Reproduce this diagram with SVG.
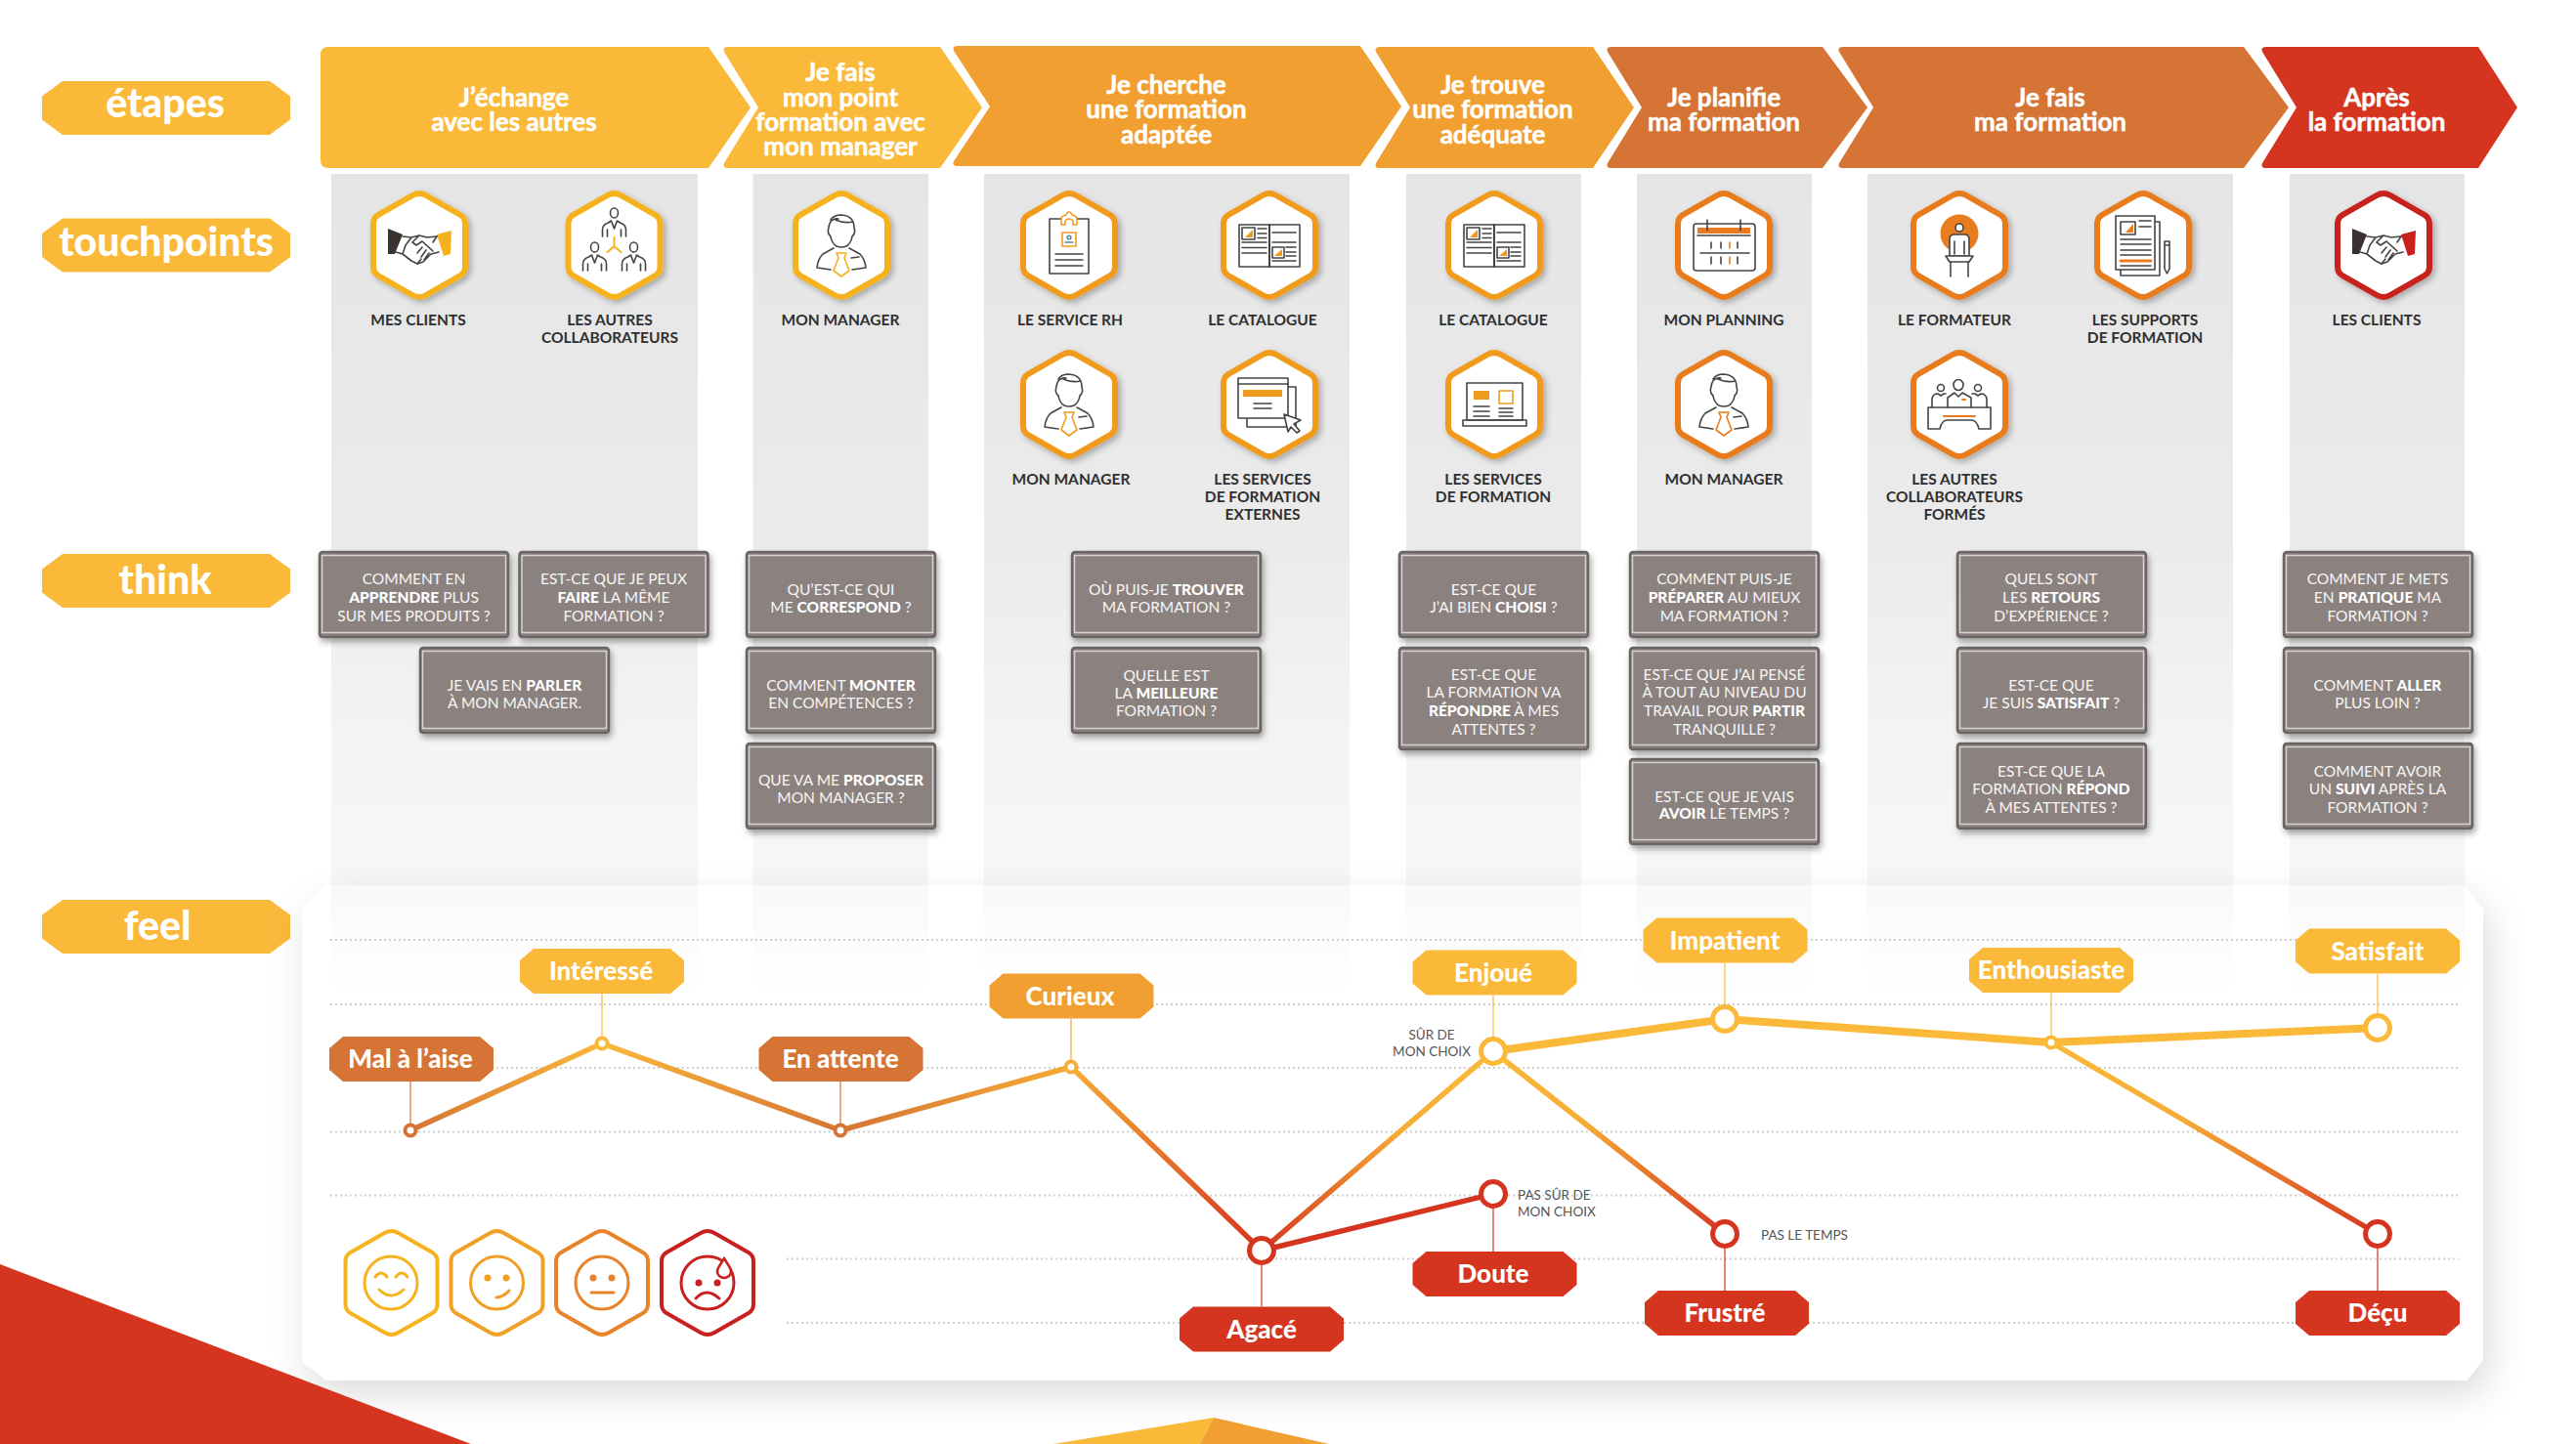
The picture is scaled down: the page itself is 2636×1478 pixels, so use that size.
<svg xmlns="http://www.w3.org/2000/svg" width="2636" height="1478" viewBox="0 0 2636 1478">
<style>
text{font-family:Lato,"Liberation Sans",Arial,sans-serif;text-anchor:middle}
.side{font-size:41px;font-weight:900;fill:#fff}
.ttl{font-size:26px;font-weight:700;fill:#fff;stroke:#fff;stroke-width:.5}
.tp{font-size:15.500px;font-weight:700;fill:#2f2f2f}
.q{font-size:15.500px;fill:#f7f5f4}
.q tspan.b{font-weight:900;fill:#fff}
.pill{font-size:26px;font-weight:900;fill:#fff}
.note{font-size:13.500px;fill:#555}
.l{text-anchor:start}
.y{fill:#FBB93A}.o{fill:#F19F30}.d{fill:#D57434}.r{fill:#D5351F}
.hex{fill:#fff;stroke:currentColor;stroke-width:6;filter:url(#hs)}
.ic{fill:none;stroke:#444;stroke-width:1.6;stroke-linecap:round;stroke-linejoin:round}
.ac{stroke:currentColor}
.af{fill:currentColor;stroke:none}
.grid{stroke:#cfcfcf;stroke-width:2;stroke-dasharray:2 3;fill:none}
.lead{stroke-width:1.2;fill:none}
.seg{fill:none;stroke-width:5.5;stroke-linecap:round}
.top{fill:none;stroke:#FBB93A;stroke-width:8;stroke-linecap:round}
.big{fill:#fff;stroke-width:5}
.small{fill:#fff;stroke-width:4}
.emo{fill:#fff;stroke:currentColor;stroke-width:4}
.fc{fill:none;stroke:currentColor;stroke-width:3;stroke-linecap:round}
.dot{fill:currentColor}
</style>
<defs>
<filter id="hs" x="-20%" y="-20%" width="150%" height="150%"><feDropShadow dx="3" dy="3" stdDeviation="3" flood-color="#000" flood-opacity=".28"/></filter>
<filter id="bs" x="-10%" y="-10%" width="125%" height="130%"><feDropShadow dx="2" dy="4" stdDeviation="3" flood-color="#000" flood-opacity=".35"/></filter>
<filter id="cs" x="-5%" y="-10%" width="110%" height="125%"><feDropShadow dx="6" dy="14" stdDeviation="18" flood-color="#000" flood-opacity=".14"/></filter>
<linearGradient id="col" gradientUnits="userSpaceOnUse" x1="0" y1="178" x2="0" y2="906"><stop offset="0" stop-color="#e5e5e5"/><stop offset=".52" stop-color="#ebebeb"/><stop offset=".8" stop-color="#f4f4f4"/><stop offset="1" stop-color="#f7f7f7"/></linearGradient>
<linearGradient id="col2" gradientUnits="userSpaceOnUse" x1="0" y1="906" x2="0" y2="1020"><stop offset="0" stop-color="#000" stop-opacity=".025"/><stop offset="1" stop-color="#000" stop-opacity="0"/></linearGradient>
<linearGradient id="g1" gradientUnits="userSpaceOnUse" x1="420" y1="1157" x2="615" y2="1068"><stop offset="0" stop-color="#D57434"/><stop offset="1" stop-color="#FBB93A"/></linearGradient>
<linearGradient id="g2" gradientUnits="userSpaceOnUse" x1="615" y1="1068" x2="860" y2="1157"><stop offset="0" stop-color="#FBB93A"/><stop offset="1" stop-color="#D57434"/></linearGradient>
<linearGradient id="g3" gradientUnits="userSpaceOnUse" x1="860" y1="1157" x2="1096" y2="1092"><stop offset="0" stop-color="#D57434"/><stop offset="1" stop-color="#F6AC35"/></linearGradient>
<linearGradient id="g4" gradientUnits="userSpaceOnUse" x1="1096" y1="1092" x2="1291" y2="1280"><stop offset="0" stop-color="#F6AC35"/><stop offset="1" stop-color="#D5351F"/></linearGradient>
<linearGradient id="g5" gradientUnits="userSpaceOnUse" x1="1291" y1="1280" x2="1528" y2="1076"><stop offset="0" stop-color="#D5351F"/><stop offset=".6" stop-color="#F6AC35"/><stop offset="1" stop-color="#FBB93A"/></linearGradient>
<linearGradient id="g6" gradientUnits="userSpaceOnUse" x1="1528" y1="1076" x2="1765" y2="1263"><stop offset="0" stop-color="#FBB93A"/><stop offset=".4" stop-color="#F6AC35"/><stop offset="1" stop-color="#D5351F"/></linearGradient>
<linearGradient id="g7" gradientUnits="userSpaceOnUse" x1="2099" y1="1067" x2="2433" y2="1263"><stop offset="0" stop-color="#FBB93A"/><stop offset=".4" stop-color="#F6AC35"/><stop offset="1" stop-color="#D5351F"/></linearGradient>
<path id="h" d="M-7,-51Q0,-55 7,-51L42,-31Q47,-28 47,-22L47,22Q47,28 42,31L7,51Q0,55 -7,51L-42,31Q-47,28 -47,22L-47,-22Q-47,-28 -42,-31Z"/>
<path id="sl" d="M-106,-27.5H106L127,-12V12L106,27.5H-106L-127,12V-12Z"/>
<path id="pl" d="M-70,-23H70L84,-11V11L70,23H-70L-84,11V-11Z"/>
<g id="b87"><rect width="193" height="87" rx="3" fill="#8B827F" stroke="#6a6563" stroke-width="2.5" filter="url(#bs)"/><rect x="2.5" y="3.5" width="188" height="79" fill="none" stroke="#d6d2d0" stroke-width="1.5"/></g>
<g id="b104"><rect width="193" height="104" rx="3" fill="#8B827F" stroke="#6a6563" stroke-width="2.5" filter="url(#bs)"/><rect x="2.5" y="3.5" width="188" height="96" fill="none" stroke="#d6d2d0" stroke-width="1.5"/></g>
<g id="i-shake" class="ic"><path fill="#3a3130" stroke="none" d="M-32,-17L-17,-11L-25,9L-32,9Z"/><path class="af" d="M33,-15L18,-11L25,11L32,9Z"/><path d="M-17,-9L-8,-8L0,-10L8,-8L18,-9M-24,7L-17,9L-8,16L-2,19L4,17L8,13L12,9L20,7M0,-10L-7,-3L-3,0L3,-4L14,6M-8,-8L-14,0L-17,9M3,2L-2,8M7,5L2,12M10,8L5,15"/><path d="M18,-9L14,-3M-2,19L2,14"/></g>
<g id="person" class="ic"><ellipse cx="0" cy="-11" rx="4" ry="5"/><path d="M-12,13V6Q-12,1 -6,-1L-3,-3L0,5L3,-3L6,-1Q12,1 12,6V13M-7,13V6M7,13V6"/></g>
<g id="i-collab" class="ic"><use href="#person" y="-22"/><use href="#person" x="-20" y="13"/><use href="#person" x="20" y="13"/><path class="ac" stroke-width="2" d="M0,-8V1M0,1L-7,7M0,1L7,7"/></g>
<g id="i-manager" class="ic"><path d="M-3,-27Q-12,-28 -13,-18Q-15,-12 -11,-9Q-10,-2 -5,1Q0,3 5,1Q10,-2 11,-9Q15,-12 13,-18Q13,-30 0,-31Q-8,-31 -11,-26M-6,-26Q3,-22 12,-24M-8,3L-19,9Q-24,14 -25,23L-11,25M8,3L19,9Q24,14 25,23L11,25M10,13L18,12"/><path class="ac" d="M-5,8H5L3,13L8,26L0,32L-8,26L-3,13Z"/></g>
<g id="i-badge" class="ic"><path d="M-8,-27H-20V29H20V-27H8"/><path class="ac" d="M-8,-21V-27Q-8,-30 -3,-31Q-2,-34 0,-34Q2,-34 3,-31Q8,-30 8,-27V-21H4V-25Q0,-29 -4,-25V-21Z"/><rect class="ac" x="-7" y="-13" width="14" height="14"/><circle cx="0" cy="-8" r="1.8" stroke="#5b8aa0"/><path d="M-4,-3H4" stroke="#5b8aa0"/><path d="M-14,9H14M-14,15H14M-14,21H14"/></g>
<g id="i-cat" class="ic"><rect x="-31" y="-21" width="62" height="43"/><path stroke-width="2" d="M0,-21V22"/><rect x="-28" y="-18" width="13" height="12"/><path class="af" d="M-17,-16V-8H-25Z"/><rect x="3" y="2" width="12" height="11"/><path class="af" d="M13,4V11H5Z"/><path d="M-12,-17H-3M-12,-12H-3M-12,-7.5H-3M-28,-3H-3M-28,2.500H-3M-28,8H-3M3,-13H27M3,-3H27M17,2H27M17,7H27M17,11H27M3,16H27"/></g>
<g id="i-web" class="ic"><path d="M19,-18H27V23H-23V14"/><rect x="-32" y="-27" width="51" height="41" fill="#fff"/><path d="M-32,-21H19M-16,-1H2M-16,4H2"/><rect class="af" x="-27" y="-15" width="40" height="7"/><path fill="#fff" d="M15,10L32,16L25,20L31,27L28,29L22,23L19,28Z"/></g>
<g id="i-laptop" class="ic"><rect x="-28" y="-22" width="57" height="38"/><rect x="-32" y="16" width="65" height="6"/><rect class="af" x="-21" y="-14" width="16" height="9"/><rect class="ac" x="5" y="-14" width="14" height="13"/><path d="M-21,2H-5M-21,7H-5M-21,12H-5M5,4H19M5,8H19M5,12H19"/></g>
<g id="i-cal" class="ic"><rect x="-31" y="-22" width="63" height="48" rx="3"/><rect class="af" x="-27" y="-18" width="54" height="6"/><path d="M-27,-10H27M-24,8H26M-13,-3V3M-3,-3V3M14,-3V3M-13,12V19M-3,12V19M14,12V19M-17,-26V-15M17,-26V-15"/><path class="ac" d="M6,-3V3M6,12V19"/></g>
<g id="i-trainer" class="ic"><circle class="af" cx="0" cy="-12" r="19.500"/><circle cx="0" cy="-18" r="4" fill="#fff"/><path fill="#fff" d="M-10,11V-6Q-10,-11 -5,-11H5Q10,-11 10,-6V11Z"/><path d="M-5,-4V9M5,-4V9"/><path fill="#fff" d="M-14,11H14L10,17H-10Z"/><path d="M-9,17V32M9,17V32"/></g>
<g id="i-doc" class="ic"><path d="M12,-24H17V31H-23V25"/><rect x="-28" y="-30" width="40" height="55" fill="#fff"/><rect x="-23" y="-24" width="15" height="13"/><path class="af" d="M-10,-22V-13H-18Z"/><path d="M-4,-25H8M-4,-19H8M-23,-6H8M-23,-1H8M-23,5H8M-23,10H8M-23,21H8"/><path class="ac" stroke-width="3" d="M-23,16H8"/><path d="M22,-4H27V24L24.500,29L22,24ZM22,0H27"/></g>
<g id="i-group" class="ic"><circle cx="-19" cy="-17" r="3.500"/><circle cx="19" cy="-17" r="3.500"/><ellipse cx="-1" cy="-20" rx="5" ry="5.500"/><path d="M-28,3V-6Q-27,-11 -22,-11L-19,-9L-16,-11H-14M28,3V-6Q27,-11 22,-11L19,-9L16,-11H13M-12,3V-7L-5,-12L-1,-8L3,-12L12,-7V3"/><path d="M-32,3H32V25H20Q18,16 12,16H-12Q-18,16 -20,25H-32Z"/><path class="ac" stroke-width="2" d="M-16,12H16M3,-5H6"/></g>
</defs>

<g id="columns" fill="url(#col)">
<rect x="339" y="178" width="375" height="728"/><rect x="770.500" y="178" width="179.500" height="728"/><rect x="1007" y="178" width="374" height="728"/><rect x="1439" y="178" width="179" height="728"/><rect x="1675" y="178" width="179" height="728"/><rect x="1911" y="178" width="374" height="728"/><rect x="2343" y="178" width="179" height="728"/>
</g>

<g id="label-etapes"><use href="#sl" x="170" y="110.500" class="y"/><text class="side" x="169" y="120">étapes</text></g>
<g id="label-touchpoints"><use href="#sl" x="170" y="251" class="y"/><text class="side" x="170" y="262">touchpoints</text></g>
<g id="label-think"><use href="#sl" x="170" y="594.500" class="y"/><text class="side" x="169" y="608">think</text></g>
<g id="label-feel"><use href="#sl" x="170" y="948.500" class="y"/><text class="side" x="161" y="962">feel</text></g>

<g id="step-1"><path class="y" d="M336,48H725L768,110L725,172H336Q328,172 328,164V56Q328,48 336,48Z"/><text class="ttl"><tspan x="526" y="109">J’échange</tspan><tspan x="526" y="134">avec les autres</tspan></text></g>
<g id="step-2"><path class="y" d="M745,48H962L1005,110L962,172H745Q739,172 741,167L776,110L741,53Q739,48 745,48Z"/><text class="ttl"><tspan x="860" y="83">Je fais</tspan><tspan x="860" y="109">mon point</tspan><tspan x="860" y="134">formation avec</tspan><tspan x="860" y="159">mon manager</tspan></text></g>
<g id="step-3"><path class="o" d="M980,47H1392L1434,109L1392,170H980Q974,170 976,165L1013,109L976,52Q974,47 980,47Z"/><text class="ttl"><tspan x="1193.500" y="96">Je cherche</tspan><tspan x="1193.500" y="121">une formation</tspan><tspan x="1193.500" y="147">adaptée</tspan></text></g>
<g id="step-4"><path class="o" d="M1412,48H1630L1672,110L1630,172H1412Q1406,172 1408,167L1443,110L1408,53Q1406,48 1412,48Z"/><text class="ttl"><tspan x="1527.500" y="96">Je trouve</tspan><tspan x="1527.500" y="121">une formation</tspan><tspan x="1527.500" y="147">adéquate</tspan></text></g>
<g id="step-5"><path class="d" d="M1649,48H1865L1911,110L1865,172H1649Q1643,172 1645,167L1680,110L1645,53Q1643,48 1649,48Z"/><text class="ttl"><tspan x="1764" y="109">Je planifie</tspan><tspan x="1764" y="134">ma formation</tspan></text></g>
<g id="step-6"><path class="d" d="M1886,48H2296L2342,110L2296,172H1886Q1880,172 1882,167L1917,110L1882,53Q1880,48 1886,48Z"/><text class="ttl"><tspan x="2098" y="109">Je fais</tspan><tspan x="2098" y="134">ma formation</tspan></text></g>
<g id="step-7"><path class="r" d="M2319,48H2536L2576,110L2536,172H2319Q2313,172 2315,167L2350,110L2315,53Q2313,48 2319,48Z"/><text class="ttl"><tspan x="2432" y="109">Après</tspan><tspan x="2432" y="134">la formation</tspan></text></g>

<g id="tp-mes-clients" color="#F5B21F"><use href="#h" class="hex" x="429" y="251"/><use href="#i-shake" x="429" y="251"/><text class="tp" x="428" y="333">MES CLIENTS</text></g>
<g id="tp-collaborateurs" color="#F5B21F"><use href="#h" class="hex" x="628.500" y="251"/><use href="#i-collab" x="628.500" y="251"/><text class="tp"><tspan x="624" y="333">LES AUTRES</tspan><tspan x="624" y="351">COLLABORATEURS</tspan></text></g>
<g id="tp-manager-1" color="#F5B21F"><use href="#h" class="hex" x="861" y="251"/><use href="#i-manager" x="861" y="251"/><text class="tp" x="860" y="333">MON MANAGER</text></g>
<g id="tp-rh" color="#F09B1F"><use href="#h" class="hex" x="1094" y="251"/><use href="#i-badge" x="1094" y="251"/><text class="tp" x="1095" y="333">LE SERVICE RH</text></g>
<g id="tp-catalogue-1" color="#F09B1F"><use href="#h" class="hex" x="1299" y="251"/><use href="#i-cat" x="1299" y="251"/><text class="tp" x="1292" y="333">LE CATALOGUE</text></g>
<g id="tp-manager-2" color="#F09B1F"><use href="#h" class="hex" x="1094" y="414"/><use href="#i-manager" x="1094" y="414"/><text class="tp" x="1096" y="496">MON MANAGER</text></g>
<g id="tp-externes" color="#F09B1F"><use href="#h" class="hex" x="1299" y="414"/><use href="#i-web" x="1299" y="414"/><text class="tp"><tspan x="1292" y="496">LES SERVICES</tspan><tspan x="1292" y="514">DE FORMATION</tspan><tspan x="1292" y="532">EXTERNES</tspan></text></g>
<g id="tp-catalogue-2" color="#F09B1F"><use href="#h" class="hex" x="1529" y="251"/><use href="#i-cat" x="1529" y="251"/><text class="tp" x="1528" y="333">LE CATALOGUE</text></g>
<g id="tp-services" color="#F09B1F"><use href="#h" class="hex" x="1529" y="414"/><use href="#i-laptop" x="1529" y="414"/><text class="tp"><tspan x="1528" y="496">LES SERVICES</tspan><tspan x="1528" y="514">DE FORMATION</tspan></text></g>
<g id="tp-planning" color="#E87C1E"><use href="#h" class="hex" x="1764" y="251"/><use href="#i-cal" x="1764" y="251"/><text class="tp" x="1764" y="333">MON PLANNING</text></g>
<g id="tp-manager-3" color="#E87C1E"><use href="#h" class="hex" x="1764" y="414"/><use href="#i-manager" x="1764" y="414"/><text class="tp" x="1764" y="496">MON MANAGER</text></g>
<g id="tp-formateur" color="#E87C1E"><use href="#h" class="hex" x="2005" y="251"/><use href="#i-trainer" x="2005" y="251"/><text class="tp" x="2000" y="333">LE FORMATEUR</text></g>
<g id="tp-supports" color="#E87C1E"><use href="#h" class="hex" x="2193" y="251"/><use href="#i-doc" x="2193" y="251"/><text class="tp"><tspan x="2195" y="333">LES SUPPORTS</tspan><tspan x="2195" y="351">DE FORMATION</tspan></text></g>
<g id="tp-formes" color="#E87C1E"><use href="#h" class="hex" x="2005" y="414"/><use href="#i-group" x="2005" y="414"/><text class="tp"><tspan x="2000" y="496">LES AUTRES</tspan><tspan x="2000" y="514">COLLABORATEURS</tspan><tspan x="2000" y="532">FORMÉS</tspan></text></g>
<g id="tp-clients" color="#C8201F"><use href="#h" class="hex" x="2439" y="251"/><use href="#i-shake" x="2439" y="251"/><text class="tp" x="2432" y="333">LES CLIENTS</text></g>

<g id="q1"><use href="#b87" x="327" y="565"/><text class="q"><tspan x="423.500" y="598">COMMENT EN</tspan><tspan x="423.500" y="617"><tspan class="b">APPRENDRE</tspan> PLUS</tspan><tspan x="423.500" y="636">SUR MES PRODUITS ?</tspan></text></g>
<g id="q2"><use href="#b87" x="531.500" y="565"/><text class="q"><tspan x="628" y="598">EST-CE QUE JE PEUX</tspan><tspan x="628" y="617"><tspan class="b">FAIRE</tspan> LA MÊME</tspan><tspan x="628" y="636">FORMATION ?</tspan></text></g>
<g id="q3"><use href="#b87" x="430" y="663"/><text class="q"><tspan x="526.500" y="706.500">JE VAIS EN <tspan class="b">PARLER</tspan></tspan><tspan x="526.500" y="724.500">À MON MANAGER.</tspan></text></g>
<g id="q4"><use href="#b87" x="764" y="565"/><text class="q"><tspan x="860.500" y="608.500">QU’EST-CE QUI</tspan><tspan x="860.500" y="626.500">ME <tspan class="b">CORRESPOND</tspan> ?</tspan></text></g>
<g id="q5"><use href="#b87" x="764" y="663"/><text class="q"><tspan x="860.500" y="706.500">COMMENT <tspan class="b">MONTER</tspan></tspan><tspan x="860.500" y="724.500">EN COMPÉTENCES ?</tspan></text></g>
<g id="q6"><use href="#b87" x="764" y="761"/><text class="q"><tspan x="860.500" y="804">QUE VA ME <tspan class="b">PROPOSER</tspan></tspan><tspan x="860.500" y="822">MON MANAGER ?</tspan></text></g>
<g id="q7"><use href="#b87" x="1097" y="565"/><text class="q"><tspan x="1193.500" y="608.500">OÙ PUIS-JE <tspan class="b">TROUVER</tspan></tspan><tspan x="1193.500" y="626.500">MA FORMATION ?</tspan></text></g>
<g id="q8"><use href="#b87" x="1097" y="663"/><text class="q"><tspan x="1193.500" y="696.500">QUELLE EST</tspan><tspan x="1193.500" y="715">LA <tspan class="b">MEILLEURE</tspan></tspan><tspan x="1193.500" y="733">FORMATION ?</tspan></text></g>
<g id="q9"><use href="#b87" x="1432" y="565"/><text class="q"><tspan x="1528.500" y="608.500">EST-CE QUE</tspan><tspan x="1528.500" y="626.500">J’AI BIEN <tspan class="b">CHOISI</tspan> ?</tspan></text></g>
<g id="q10"><use href="#b104" x="1432" y="663"/><text class="q"><tspan x="1528.500" y="695.500">EST-CE QUE</tspan><tspan x="1528.500" y="714">LA FORMATION VA</tspan><tspan x="1528.500" y="733"><tspan class="b">RÉPONDRE</tspan> À MES</tspan><tspan x="1528.500" y="751.500">ATTENTES ?</tspan></text></g>
<g id="q11"><use href="#b87" x="1668" y="565"/><text class="q"><tspan x="1764.500" y="598">COMMENT PUIS-JE</tspan><tspan x="1764.500" y="617"><tspan class="b">PRÉPARER</tspan> AU MIEUX</tspan><tspan x="1764.500" y="636">MA FORMATION ?</tspan></text></g>
<g id="q12"><use href="#b104" x="1668" y="663"/><text class="q"><tspan x="1764.500" y="695.500">EST-CE QUE J’AI PENSÉ</tspan><tspan x="1764.500" y="714">À TOUT AU NIVEAU DU</tspan><tspan x="1764.500" y="733">TRAVAIL POUR <tspan class="b">PARTIR</tspan></tspan><tspan x="1764.500" y="751.500">TRANQUILLE ?</tspan></text></g>
<g id="q13"><use href="#b87" x="1668" y="777"/><text class="q"><tspan x="1764.500" y="820.500">EST-CE QUE JE VAIS</tspan><tspan x="1764.500" y="838"><tspan class="b">AVOIR</tspan> LE TEMPS ?</tspan></text></g>
<g id="q14"><use href="#b87" x="2003" y="565"/><text class="q"><tspan x="2099" y="598">QUELS SONT</tspan><tspan x="2099" y="617">LES <tspan class="b">RETOURS</tspan></tspan><tspan x="2099" y="636">D’EXPÉRIENCE ?</tspan></text></g>
<g id="q15"><use href="#b87" x="2003" y="663"/><text class="q"><tspan x="2099" y="706.500">EST-CE QUE</tspan><tspan x="2099" y="724.500">JE SUIS <tspan class="b">SATISFAIT</tspan> ?</tspan></text></g>
<g id="q16"><use href="#b87" x="2003" y="761"/><text class="q"><tspan x="2099" y="795">EST-CE QUE LA</tspan><tspan x="2099" y="813">FORMATION <tspan class="b">RÉPOND</tspan></tspan><tspan x="2099" y="831.500">À MES ATTENTES ?</tspan></text></g>
<g id="q17"><use href="#b87" x="2337" y="565"/><text class="q"><tspan x="2433" y="598">COMMENT JE METS</tspan><tspan x="2433" y="617">EN <tspan class="b">PRATIQUE</tspan> MA</tspan><tspan x="2433" y="636">FORMATION ?</tspan></text></g>
<g id="q18"><use href="#b87" x="2337" y="663"/><text class="q"><tspan x="2433" y="706.500">COMMENT <tspan class="b">ALLER</tspan></tspan><tspan x="2433" y="724.500">PLUS LOIN ?</tspan></text></g>
<g id="q19"><use href="#b87" x="2337" y="761"/><text class="q"><tspan x="2433" y="795">COMMENT AVOIR</tspan><tspan x="2433" y="813">UN <tspan class="b">SUIVI</tspan> APRÈS LA</tspan><tspan x="2433" y="831.500">FORMATION ?</tspan></text></g>

<path id="feel-card" d="M334,906H2520L2541,930V1392L2524,1413H334L309,1393V930Z" fill="#fff" filter="url(#cs)"/>
<g id="columns-through-card" fill="url(#col2)">
<rect x="339" y="906" width="375" height="114"/><rect x="770.500" y="906" width="179.500" height="114"/><rect x="1007" y="906" width="374" height="114"/><rect x="1439" y="906" width="179" height="114"/><rect x="1675" y="906" width="179" height="114"/><rect x="1911" y="906" width="374" height="114"/><rect x="2343" y="906" width="179" height="114"/>
</g>

<g id="grid" class="grid"><path d="M338,962H2516M338,1028H2516M338,1093H2516M338,1158.500H2516M338,1223.500H2516M805,1288.500H2516M805,1354H2516"/></g>

<g id="connectors">
<path class="lead" stroke="#D57434" d="M420,1107V1157M860,1107V1157"/>
<path class="lead" stroke="#FBB93A" d="M616,1017V1068M1528,1019V1076M1765,986V1043M2099,1016V1067M2433,997V1052"/>
<path class="lead" stroke="#F19F30" d="M1096,1043V1092"/>
<path class="lead" stroke="#D5351F" d="M1291,1280V1337M1528,1222V1281M1765,1263V1321M2433,1263V1321"/>
<path class="seg" stroke="url(#g1)" d="M420,1157L616,1068"/>
<path class="seg" stroke="url(#g2)" d="M616,1068L860,1157"/>
<path class="seg" stroke="url(#g3)" d="M860,1157L1096,1092"/>
<path class="seg" stroke="url(#g4)" d="M1096,1092L1291,1280"/>
<path class="seg" stroke="url(#g5)" d="M1291,1280L1528,1076"/>
<path class="seg" stroke="url(#g6)" d="M1528,1076L1765,1263"/>
<path class="seg" stroke="url(#g7)" d="M2099,1067L2433,1263"/>
<path class="seg" stroke="#D5351F" stroke-width="7.500" d="M1291,1280L1528,1222"/>
<path class="top" d="M1528,1076L1765,1043L2099,1067L2433,1052"/>
</g>

<g id="emo-1" color="#F5B31E"><use href="#h" class="emo" x="400.500" y="1313"/><circle class="fc" cx="400" cy="1313" r="27"/><path class="fc" d="M384,1307Q390,1299 396,1307M405,1307Q411,1299 417,1307M388,1320Q400,1332 413,1320"/></g>
<g id="emo-2" color="#F0A026"><use href="#h" class="emo" x="508.500" y="1313"/><circle class="fc" cx="508.500" cy="1313" r="27"/><circle class="dot" cx="499" cy="1308" r="3.500"/><circle class="dot" cx="518" cy="1308" r="3.500"/><path class="fc" d="M508,1328Q516,1327 521,1321"/></g>
<g id="emo-3" color="#E8832A"><use href="#h" class="emo" x="616" y="1313"/><circle class="fc" cx="616" cy="1313" r="27"/><circle class="dot" cx="607" cy="1308" r="3.500"/><circle class="dot" cx="626" cy="1308" r="3.500"/><path class="fc" d="M605,1323H628"/></g>
<g id="emo-4" color="#C8201F"><use href="#h" class="emo" x="724" y="1313"/><circle class="fc" cx="724" cy="1313" r="27"/><circle class="dot" cx="715" cy="1313" r="3.500"/><circle class="dot" cx="734" cy="1313" r="3.500"/><path class="fc" d="M712,1329Q723,1317 736,1329"/><path fill="#fff" stroke="currentColor" stroke-width="2.500" d="M741,1288L746,1296Q750,1302 746,1306Q741,1310 736,1306Q732,1302 736,1296Z"/></g>

<g id="n-mal"><use href="#pl" class="d" x="421" y="1084"/><text class="pill" x="420" y="1093">Mal à l’aise</text><circle class="small" cx="420" cy="1157" r="5.500" stroke="#D57434"/></g>
<g id="n-interesse"><use href="#pl" class="y" x="616" y="994"/><text class="pill" x="615" y="1003">Intéressé</text><circle class="small" cx="616" cy="1068" r="5.500" stroke="#FBB93A"/></g>
<g id="n-attente"><use href="#pl" class="d" x="860.500" y="1084"/><text class="pill" x="860" y="1093">En attente</text><circle class="small" cx="860" cy="1157" r="5.500" stroke="#D57434"/></g>
<g id="n-curieux"><use href="#pl" class="o" x="1096.500" y="1019.500"/><text class="pill" x="1095" y="1028.500">Curieux</text><circle class="small" cx="1096" cy="1092" r="5.500" stroke="#F6AC35"/></g>
<g id="n-agace"><use href="#pl" class="r" x="1291" y="1360.500"/><text class="pill" x="1291" y="1369.500">Agacé</text><circle class="big" cx="1291" cy="1280" r="12.500" stroke="#D5351F"/></g>
<g id="n-enjoue"><use href="#pl" class="y" x="1529.500" y="995.500"/><text class="pill" x="1528" y="1004.500">Enjoué</text><circle class="big" cx="1528" cy="1076" r="12.500" stroke="#FBB93A"/><text class="note"><tspan x="1465" y="1064">SÛR DE</tspan><tspan x="1465" y="1081">MON CHOIX</tspan></text></g>
<g id="n-impatient"><use href="#pl" class="y" x="1765.500" y="962.500"/><text class="pill" x="1765" y="971.500">Impatient</text><circle class="big" cx="1765" cy="1043" r="12.500" stroke="#FBB93A"/></g>
<g id="n-enthousiaste"><use href="#pl" class="y" x="2099" y="993"/><text class="pill" x="2099" y="1002">Enthousiaste</text><circle class="small" cx="2099" cy="1067" r="5.500" stroke="#FBB93A"/></g>
<g id="n-satisfait"><use href="#pl" class="y" x="2433" y="973.500"/><text class="pill" x="2433" y="982.500">Satisfait</text><circle class="big" cx="2433" cy="1052" r="12.500" stroke="#FBB93A"/></g>
<g id="n-doute"><use href="#pl" class="r" x="1529.500" y="1304"/><text class="pill" x="1528" y="1313">Doute</text><circle class="big" cx="1528" cy="1222" r="12.500" stroke="#D5351F"/><text class="note l"><tspan x="1553" y="1228">PAS SÛR DE</tspan><tspan x="1553" y="1245">MON CHOIX</tspan></text></g>
<g id="n-frustre"><use href="#pl" class="r" x="1767" y="1344"/><text class="pill" x="1765" y="1353">Frustré</text><circle class="big" cx="1765" cy="1263" r="12.500" stroke="#D5351F"/><text class="note l" x="1802" y="1269">PAS LE TEMPS</text></g>
<g id="n-decu"><use href="#pl" class="r" x="2433" y="1344"/><text class="pill" x="2433" y="1353">Déçu</text><circle class="big" cx="2433" cy="1263" r="12.500" stroke="#D5351F"/></g>

<path id="corner-red" class="r" d="M0,1294L482,1478H0Z"/>
<g id="bottom-shape"><path class="y" d="M1242,1451L1078,1478H1228Z"/><path class="o" d="M1242,1451L1360,1478H1228Z"/></g>
</svg>
